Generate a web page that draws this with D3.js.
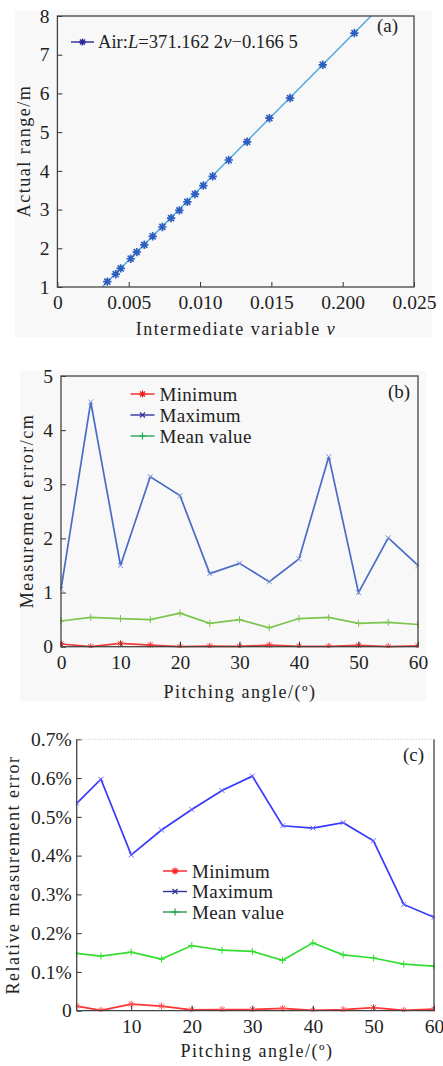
<!DOCTYPE html>
<html><head><meta charset="utf-8">
<script src="https://cdn.jsdelivr.net/npm/d3@7"></script>
<style>
body{margin:0;background:#fff;}
text{font-family:"Liberation Serif","Times New Roman",serif;fill:#222;}
</style>
</head><body>
<svg id="chart" width="443" height="1066"></svg>
<script>
// ---------- Panel (a) data ----------
const vA = [0.00350,0.00409,0.00444,0.00514,0.00556,0.00609,0.00668,0.00736,0.00797,0.00855,0.00911,0.00965,0.01023,0.01089,0.01201,0.01330,0.01486,0.01631,0.01860,0.02082];
const rangeA = [1.14,1.33,1.48,1.73,1.90,2.09,2.31,2.55,2.78,2.98,3.20,3.40,3.62,3.86,4.28,4.75,5.36,5.88,6.74,7.56];
const fitV = [0.00314,0.02250];
const fitL = [1.0,8.19];
const xTicksA = [0,0.005,0.010,0.015,0.020,0.025];
const xTickLabelsA = ["0","0.005","0.010","0.015","0.200","0.025"];
const yTicksA = [1,2,3,4,5,6,7,8];

// ---------- Panel (b) data ----------
const anglesB = [0,5,10,15,20,25,30,35,40,45,50,55,60];
const minB  = [0.05,0.00,0.06,0.03,0.00,0.01,0.005,0.03,0.005,0.005,0.025,0.00,0.015];
const maxB  = [1.06,4.52,1.50,3.14,2.79,1.35,1.54,1.20,1.62,3.51,1.00,2.01,1.50];
const meanB = [0.475,0.54,0.52,0.50,0.62,0.43,0.50,0.35,0.52,0.54,0.43,0.45,0.41];
const xTicksB = [0,10,20,30,40,50,60];
const yTicksB = [0,1,2,3,4,5];

// ---------- Panel (c) data ----------
const anglesC = [1,5,10,15,20,25,30,35,40,45,50,55,60];
const minC  = [0.012,0.001,0.017,0.012,0.002,0.003,0.003,0.006,0.001,0.003,0.008,0.001,0.004];
const maxC  = [0.535,0.597,0.402,0.466,0.519,0.568,0.605,0.477,0.471,0.485,0.438,0.274,0.241];
const meanC = [0.148,0.141,0.151,0.133,0.168,0.156,0.153,0.130,0.175,0.144,0.136,0.120,0.115];
const xTicksC = [10,20,30,40,50,60];
const yTicksC = [0,0.1,0.2,0.3,0.4,0.5,0.6,0.7];
const yTickLabelsC = ["0","0.1%","0.2%","0.3%","0.4%","0.5%","0.6%","0.7%"];

const seriesNames = ["Minimum","Maximum","Mean value"];

const svg = d3.select("#chart");
const defs = svg.append("defs");
const TICK_FS = 19.5;

function markerPath(type, r){
  const a = r*0.72;
  if(type==="star") return `M${-r},0H${r}M0,${-r}V${r}M${-a},${-a}L${a},${a}M${-a},${a}L${a},${-a}`;
  if(type==="x") return `M${-a},${-a}L${a},${a}M${-a},${a}L${a},${-a}`;
  return `M${-r},0H${r}M0,${-r}V${r}`;
}

function clipRect(id, x0, y0, x1, y1){
  defs.append("clipPath").attr("id",id).append("rect")
    .attr("x",x0).attr("y",y0).attr("width",x1-x0).attr("height",y1-y0);
}

function styleAxis(a){
  a.select(".domain").remove();
  a.selectAll("line").attr("stroke","#333");
  a.selectAll("text").attr("font-size",TICK_FS).attr("font-family","Liberation Serif").attr("fill","#222");
}

// ================= Panel (a) =================
(function(){
  const L=57.4,R=414,T=16,B=287;
  svg.append("rect").attr("x",15).attr("y",10).attr("width",417).attr("height",327).attr("fill","#f8f8f8");
  const x = d3.scaleLinear().domain([0,0.025]).range([L,R]);
  const y = d3.scaleLinear().domain([1,8]).range([B,T]);
  clipRect("clipA",L,T,R,B);
  const g = svg.append("g");
  g.append("path").attr("clip-path","url(#clipA)")
    .datum(fitV.map((v,i)=>[v,fitL[i]]))
    .attr("d", d3.line().x(d=>x(d[0])).y(d=>y(d[1])))
    .attr("fill","none").attr("stroke","#4aa6dc").attr("stroke-width",1.4);
  g.selectAll(".pa").data(vA).enter().append("path")
    .attr("transform",(d,i)=>`translate(${x(d)},${y(rangeA[i])})`)
    .attr("d",markerPath("star",4.2)).attr("stroke","#2d5fc0").attr("stroke-width",1.7).attr("fill","none");
  const xa = svg.append("g").attr("transform",`translate(0,${B})`)
    .call(d3.axisBottom(x).tickValues(xTicksA).tickSize(-5).tickFormat((d,i)=>xTickLabelsA[i]).tickPadding(8));
  const ya = svg.append("g").attr("transform",`translate(${L},0)`)
    .call(d3.axisLeft(y).tickValues(yTicksA).tickSize(-5).tickFormat(d3.format("d")).tickPadding(8));
  styleAxis(xa); styleAxis(ya);
  svg.append("rect").attr("x",L).attr("y",T).attr("width",R-L).attr("height",B-T)
    .attr("fill","none").attr("stroke","#444").attr("stroke-width",1.3);
  svg.append("line").attr("x1",71).attr("x2",94).attr("y1",42).attr("y2",42).attr("stroke","#2a2a9c").attr("stroke-width",1.4);
  svg.append("path").attr("transform","translate(82.5,42)").attr("d",markerPath("star",3.5)).attr("stroke","#2a2a9c").attr("stroke-width",1.4);
  const lt = svg.append("text").attr("x",98).attr("y",48).attr("font-size",18.6);
  lt.append("tspan").text("Air:");
  lt.append("tspan").attr("font-style","italic").text("L");
  lt.append("tspan").text("=371.162 2");
  lt.append("tspan").attr("font-style","italic").text("v");
  lt.append("tspan").text("\u22120.166 5");
  svg.append("text").attr("x",377).attr("y",32).attr("font-size",19).text("(a)");
  svg.append("text").attr("transform","translate(30,151) rotate(-90)").attr("text-anchor","middle")
    .attr("font-size",18).attr("letter-spacing",1.5).text("Actual range/m");
  const xt = svg.append("text").attr("x",236).attr("y",335).attr("text-anchor","middle")
    .attr("font-size",18).attr("letter-spacing",1.5);
  xt.append("tspan").text("Intermediate variable ");
  xt.append("tspan").attr("font-style","italic").text("v");
})();

// ================= generic error panel =================
function errorPanel(o){
  const {L,R,T,B} = o;
  if(o.bg) svg.append("rect").attr("x",o.bg[0]).attr("y",o.bg[1]).attr("width",o.bg[2]-o.bg[0]).attr("height",o.bg[3]-o.bg[1]).attr("fill","#f8f8f8");
  const x = d3.scaleLinear().domain(o.xDomain).range([L,R]);
  const y = d3.scaleLinear().domain(o.yDomain).range([B,T]);
  const cid = "clip"+o.tag;
  clipRect(cid,L-1,T-1,R+1,B+1);
  const g = svg.append("g").attr("clip-path",`url(#${cid})`);
  const ser = [
    {vals:o.maxV, color:o.colors[1], mk:"x", mc:o.mcolors[1]},
    {vals:o.meanV, color:o.colors[2], mk:"plus", mc:o.mcolors[2]},
    {vals:o.minV, color:o.colors[0], mk:"star", mc:o.mcolors[0]},
  ];
  ser.forEach(s=>{
    const pts = o.xs.map((a,i)=>[a,s.vals[i]]);
    g.append("path").datum(pts).attr("d",d3.line().x(d=>x(d[0])).y(d=>y(d[1])))
      .attr("fill","none").attr("stroke",s.color).attr("stroke-width",1.7);
    g.selectAll(null).data(pts).enter().append("path")
      .attr("transform",d=>`translate(${x(d[0])},${y(d[1])})`)
      .attr("d",markerPath(s.mk,3.5)).attr("stroke",s.mc).attr("stroke-width",1).attr("fill","none");
  });
  const xa = svg.append("g").attr("transform",`translate(0,${B})`)
    .call(d3.axisBottom(x).tickValues(o.xTicks).tickSize(-5).tickFormat(d3.format("d")).tickPadding(8));
  const ya = svg.append("g").attr("transform",`translate(${L},0)`)
    .call(d3.axisLeft(y).tickValues(o.yTicks).tickSize(-5).tickFormat((d,i)=>o.yLabels[i]).tickPadding(o.yPad));
  styleAxis(xa); styleAxis(ya);
  if(o.dottedTop){
    svg.append("line").attr("x1",L).attr("x2",R).attr("y1",T).attr("y2",T).attr("stroke","#bbb").attr("stroke-dasharray","1,2");
    svg.append("path").attr("d",`M${L},${T}V${B}H${R}V${T}`).attr("fill","none").attr("stroke","#444").attr("stroke-width",1.3);
  } else {
    svg.append("rect").attr("x",L).attr("y",T).attr("width",R-L).attr("height",B-T)
      .attr("fill","none").attr("stroke","#444").attr("stroke-width",1.3);
  }
  const lg = o.legend;
  const mks = ["star","x","plus"];
  seriesNames.forEach((n,i)=>{
    const yy = lg.y + i*lg.dy;
    svg.append("line").attr("x1",lg.x).attr("x2",lg.x+24).attr("y1",yy).attr("y2",yy).attr("stroke",o.legendColors[i]).attr("stroke-width",1.4);
    svg.append("path").attr("transform",`translate(${lg.x+12},${yy})`).attr("d",markerPath(mks[i],3.5))
      .attr("stroke",o.legendColors[i]).attr("stroke-width",1.2).attr("fill","none");
    svg.append("text").attr("x",lg.x+29).attr("y",yy+6.5).attr("font-size",19).attr("letter-spacing",0.3).text(n);
  });
  svg.append("text").attr("x",o.tagPos[0]).attr("y",o.tagPos[1]).attr("font-size",19).text(`(${o.tag})`);
  svg.append("text").attr("transform",`translate(${o.yTitlePos[0]},${o.yTitlePos[1]}) rotate(-90)`).attr("text-anchor","middle")
    .attr("font-size",18).attr("letter-spacing",1.5).text(o.yTitle);
  svg.append("text").attr("x",o.xTitlePos[0]).attr("y",o.xTitlePos[1]).attr("text-anchor","middle")
    .attr("font-size",18).attr("letter-spacing",1.5).text("Pitching angle/(\u00ba)");
}

errorPanel({
  tag:"b", L:61, R:418, T:376, B:646.7, bg:[20,371,426,701],
  xDomain:[0,60], yDomain:[0,5], xs:anglesB, minV:minB, maxV:maxB, meanV:meanB,
  xTicks:xTicksB, yTicks:yTicksB, yLabels:yTicksB.map(String), yPad:8,
  colors:["#ee3a3a","#4a6cc4","#7cc54e"], mcolors:["#ee3a3a","#7f93d8","#7cc54e"],
  legendColors:["#ee2222","#3333a0","#22aa55"],
  legend:{x:130.5,y:394,dy:21}, tagPos:[388,398],
  yTitle:"Measurement error/cm", yTitlePos:[33,511], xTitlePos:[240,698]
});

errorPanel({
  tag:"c", L:76.7, R:434, T:739.3, B:1010.7, bg:null, dottedTop:true,
  xDomain:[1,60], yDomain:[0,0.7], xs:anglesC, minV:minC, maxV:maxC, meanV:meanC,
  xTicks:xTicksC, yTicks:yTicksC, yLabels:yTickLabelsC, yPad:5,
  colors:["#ff3333","#3838ff","#33dd33"], mcolors:["#ff5555","#6a6aff","#33dd33"],
  legendColors:["#ff2222","#333399","#229944"],
  legend:{x:163,y:871,dy:20.5}, tagPos:[403,761],
  yTitle:"Relative measurement error", yTitlePos:[19,875], xTitlePos:[257,1057]
});
</script>
</body></html>
